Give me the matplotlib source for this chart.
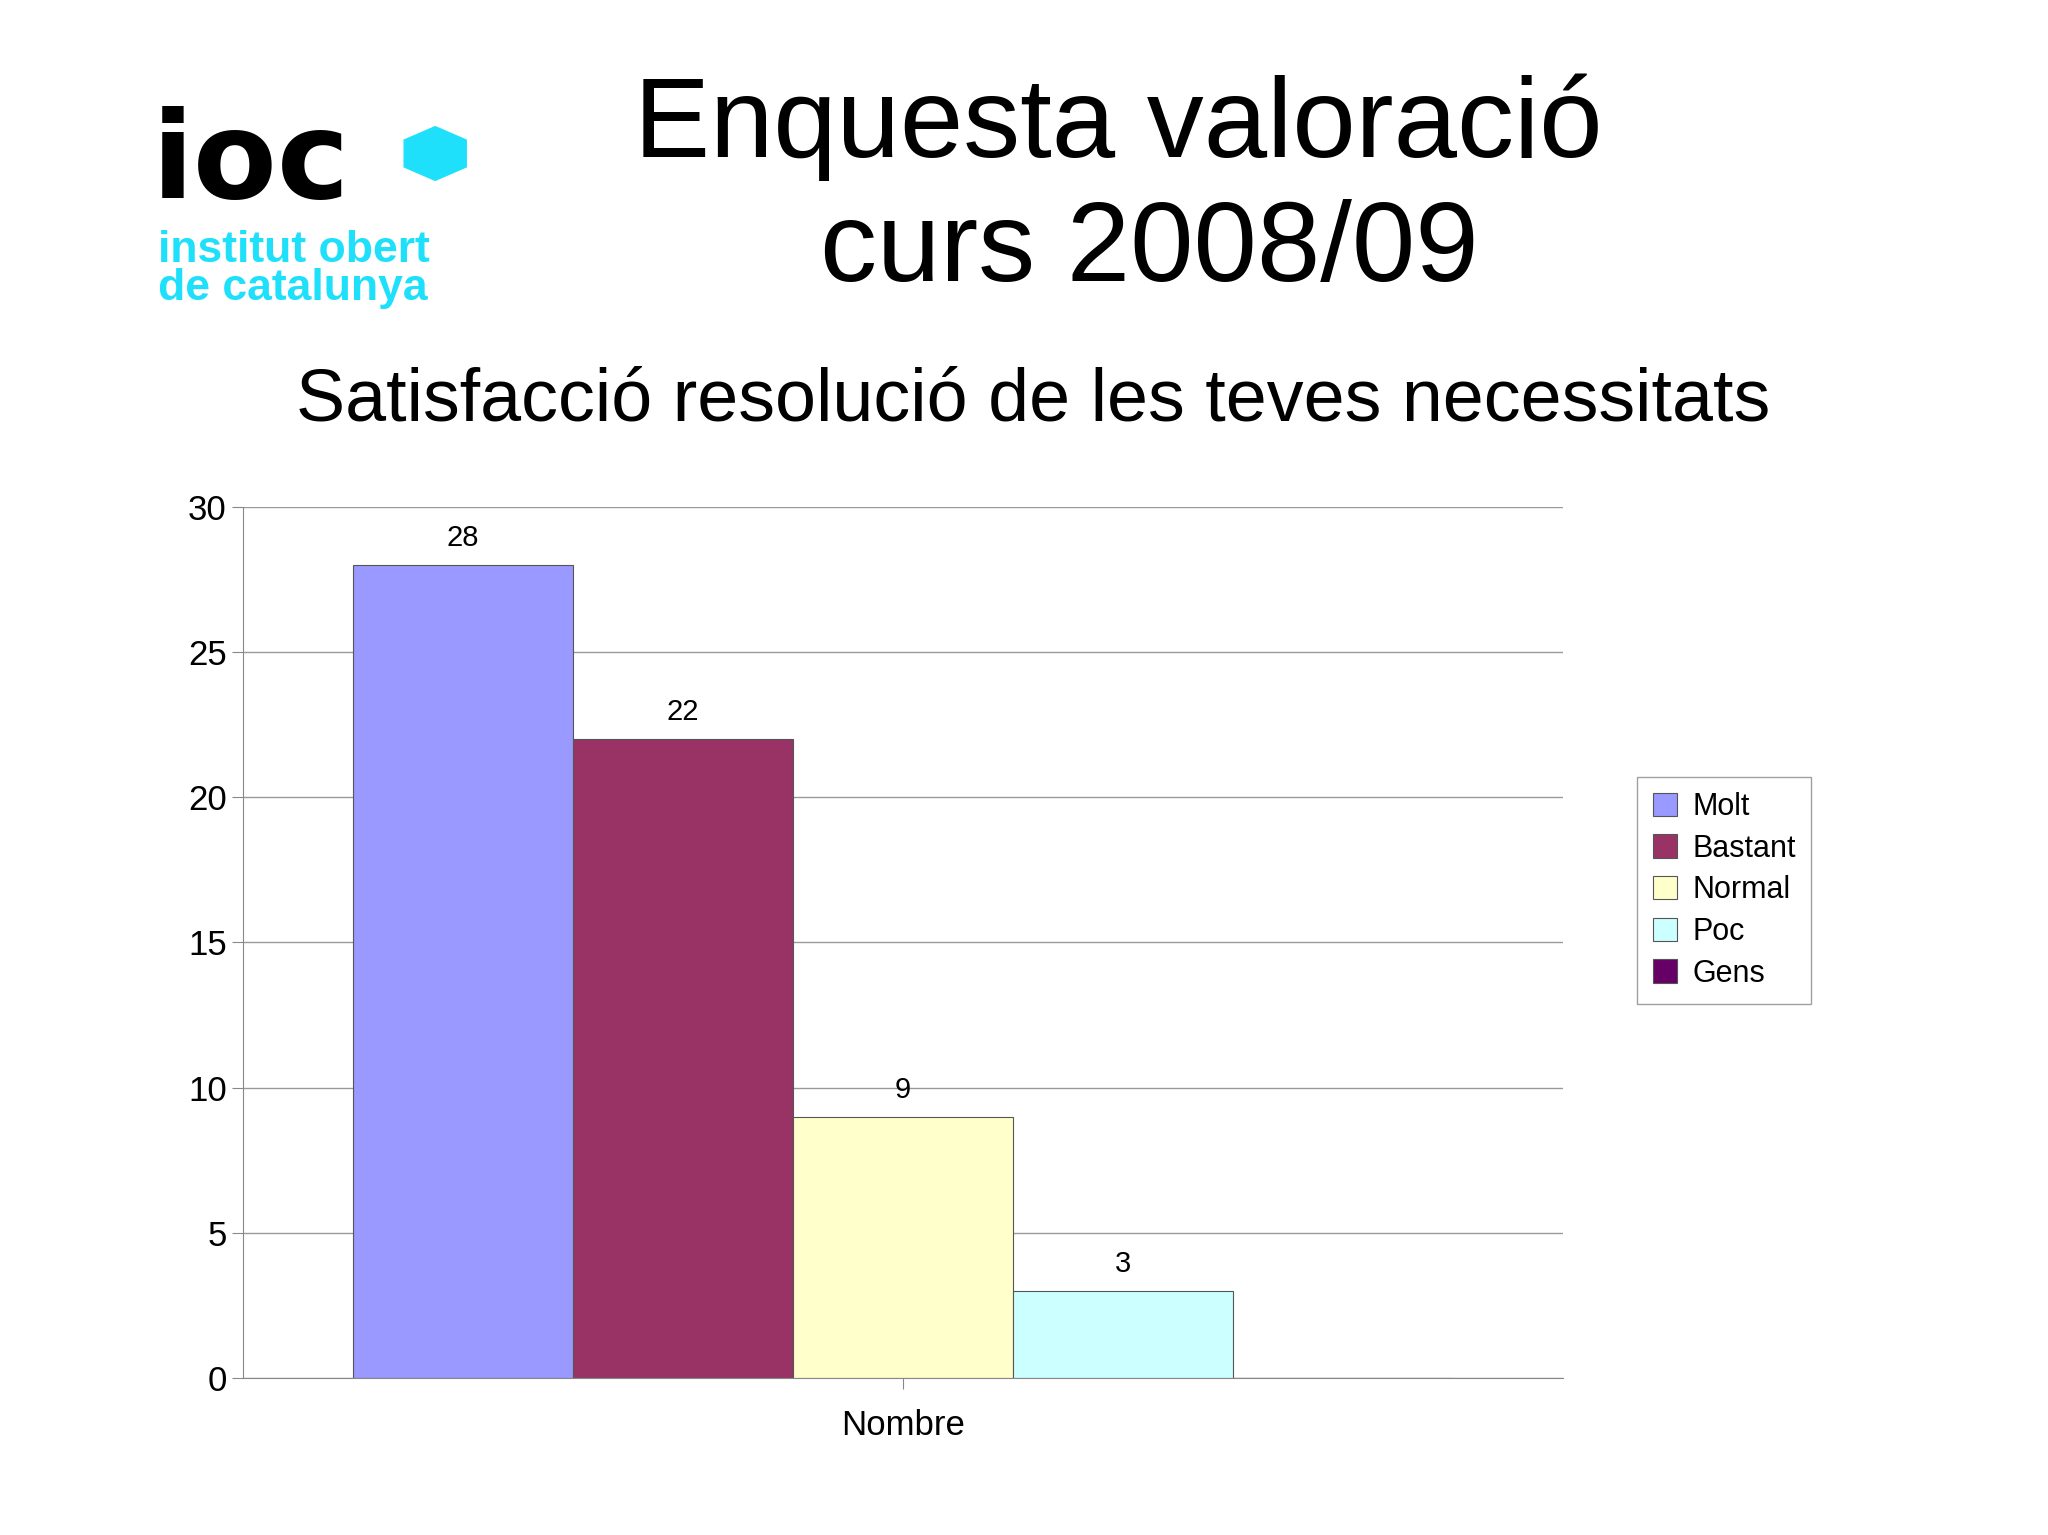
import matplotlib.pyplot as plt
from matplotlib.patches import RegularPolygon

plt.rcParams['font.family'] = ['Liberation Sans', 'DejaVu Sans']

categories = ['Molt', 'Bastant', 'Normal', 'Poc', 'Gens']
values = [28, 22, 9, 3, 0]
colors = ['#9999ff', '#993366', '#ffffcc', '#ccffff', '#660066']
group_label = 'Nombre'

fig = plt.figure(figsize=(20.48, 15.35), dpi=100)

# titles
fig.text(0.546, 0.917, 'Enquesta valoració', ha='center', va='center', fontsize=82)
fig.text(0.561, 0.836, 'curs 2008/09', ha='center', va='center', fontsize=82)
fig.text(0.5045, 0.739, 'Satisfacció resolució de les teves necessitats', ha='center', va='center', fontsize=53)

# logo
cyan = '#1ee0fa'
fig.text(0.074, 0.893, 'ioc', ha='left', va='center', fontsize=88, fontweight='bold',
         color='black', family='DejaVu Sans')
fig.add_artist(RegularPolygon((0.2125, 0.9), numVertices=6, radius=0.0175, orientation=0,
                              transform=fig.transFigure, color=cyan))
fig.text(0.077, 0.837, 'institut obert', ha='left', va='center', fontsize=32, fontweight='bold', color=cyan)
fig.text(0.077, 0.812, 'de catalunya', ha='left', va='center', fontsize=32, fontweight='bold', color=cyan)

ax = fig.add_axes([0.1186, 0.102, 0.6448, 0.568])
xs = range(1, len(values) + 1)
ax.bar(xs, values, width=1.0, color=colors, edgecolor='#555555', linewidth=0.8)
for x, v in zip(xs, values):
    if v > 0:
        ax.text(x, v + 0.45, str(v), ha='center', va='bottom', fontsize=21)

ax.set_xlim(0, 6)
ax.set_ylim(0, 30)
ax.set_yticks(range(0, 31, 5))
ax.set_xticks([3])
ax.set_xticklabels([group_label])
ax.tick_params(axis='y', labelsize=25, length=8, color='#888888')
ax.tick_params(axis='x', labelsize=25, length=8, color='#888888', pad=14)
ax.yaxis.grid(True, color='#999999', linewidth=1)
ax.set_axisbelow(True)
for s in ['top', 'right']:
    ax.spines[s].set_visible(False)
for s in ['left', 'bottom']:
    ax.spines[s].set_color('#888888')

handles = [plt.Rectangle((0, 0), 1, 1, facecolor=c, edgecolor='#555555', linewidth=0.8) for c in colors]
fig.legend(handles, categories, loc='center left', bbox_to_anchor=(0.792, 0.42), fontsize=22,
           frameon=True, fancybox=False, edgecolor='#888888', handlelength=0.8, handleheight=0.8,
           handletextpad=0.5, labelspacing=0.38, borderpad=0.5)

fig.savefig('out.png', dpi=100)
